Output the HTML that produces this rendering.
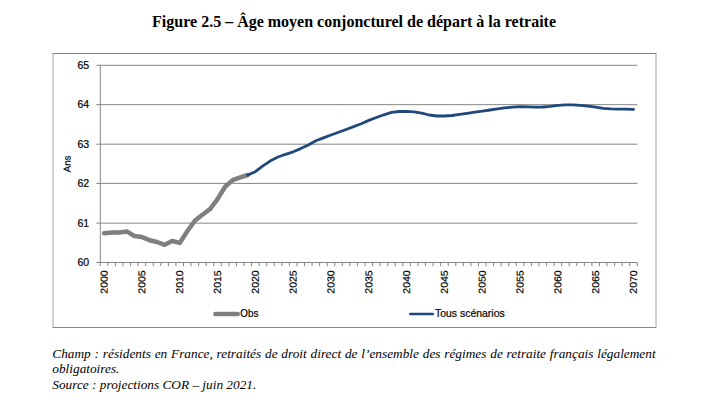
<!DOCTYPE html>
<html><head><meta charset="utf-8"><title>Figure 2.5</title>
<style>
html,body{margin:0;padding:0;background:#fff;}
body{width:714px;height:403px;position:relative;overflow:hidden;font-family:"Liberation Serif",serif;color:#000;}
.title{position:absolute;left:152.1px;top:10px;font-family:"Liberation Serif",serif;font-weight:bold;font-size:16px;line-height:24px;white-space:nowrap;}
.note{position:absolute;left:52.3px;top:345.5px;width:603.3px;font-family:"Liberation Serif",serif;font-style:italic;font-size:13.3px;line-height:15.8px;}
.note .j{display:block;text-align:justify;text-align-last:justify;white-space:nowrap;}
</style></head><body>
<svg width="714" height="403" viewBox="0 0 714 403" style="position:absolute;left:0;top:0">
<line x1="53" y1="53" x2="53" y2="328" stroke="#a2a2a2" stroke-width="1"/>
<line x1="656" y1="53" x2="656" y2="328" stroke="#a2a2a2" stroke-width="1"/>
<line x1="52.8" y1="53.5" x2="656.2" y2="53.5" stroke="#868686" stroke-width="1"/>
<line x1="52.8" y1="327.5" x2="656.2" y2="327.5" stroke="#868686" stroke-width="1"/>
<line x1="96.30" y1="262.50" x2="637.30" y2="262.50" stroke="#868686" stroke-width="1"/>
<line x1="96.30" y1="223.15" x2="637.30" y2="223.15" stroke="#868686" stroke-width="1"/>
<line x1="96.30" y1="183.40" x2="637.30" y2="183.40" stroke="#868686" stroke-width="1"/>
<line x1="96.30" y1="144.20" x2="637.30" y2="144.20" stroke="#868686" stroke-width="1"/>
<line x1="96.30" y1="104.66" x2="637.30" y2="104.66" stroke="#868686" stroke-width="1"/>
<line x1="96.30" y1="65.30" x2="637.30" y2="65.30" stroke="#868686" stroke-width="1"/>
<line x1="100.30" y1="64.80" x2="100.30" y2="266.00" stroke="#868686" stroke-width="1"/>
<line x1="107.86" y1="262.50" x2="107.86" y2="266.20" stroke="#868686" stroke-width="1"/>
<line x1="115.43" y1="262.50" x2="115.43" y2="266.20" stroke="#868686" stroke-width="1"/>
<line x1="122.99" y1="262.50" x2="122.99" y2="266.20" stroke="#868686" stroke-width="1"/>
<line x1="130.55" y1="262.50" x2="130.55" y2="266.20" stroke="#868686" stroke-width="1"/>
<line x1="138.12" y1="262.50" x2="138.12" y2="266.20" stroke="#868686" stroke-width="1"/>
<line x1="145.68" y1="262.50" x2="145.68" y2="266.20" stroke="#868686" stroke-width="1"/>
<line x1="153.24" y1="262.50" x2="153.24" y2="266.20" stroke="#868686" stroke-width="1"/>
<line x1="160.81" y1="262.50" x2="160.81" y2="266.20" stroke="#868686" stroke-width="1"/>
<line x1="168.37" y1="262.50" x2="168.37" y2="266.20" stroke="#868686" stroke-width="1"/>
<line x1="175.93" y1="262.50" x2="175.93" y2="266.20" stroke="#868686" stroke-width="1"/>
<line x1="183.50" y1="262.50" x2="183.50" y2="266.20" stroke="#868686" stroke-width="1"/>
<line x1="191.06" y1="262.50" x2="191.06" y2="266.20" stroke="#868686" stroke-width="1"/>
<line x1="198.62" y1="262.50" x2="198.62" y2="266.20" stroke="#868686" stroke-width="1"/>
<line x1="206.19" y1="262.50" x2="206.19" y2="266.20" stroke="#868686" stroke-width="1"/>
<line x1="213.75" y1="262.50" x2="213.75" y2="266.20" stroke="#868686" stroke-width="1"/>
<line x1="221.31" y1="262.50" x2="221.31" y2="266.20" stroke="#868686" stroke-width="1"/>
<line x1="228.88" y1="262.50" x2="228.88" y2="266.20" stroke="#868686" stroke-width="1"/>
<line x1="236.44" y1="262.50" x2="236.44" y2="266.20" stroke="#868686" stroke-width="1"/>
<line x1="244.00" y1="262.50" x2="244.00" y2="266.20" stroke="#868686" stroke-width="1"/>
<line x1="251.57" y1="262.50" x2="251.57" y2="266.20" stroke="#868686" stroke-width="1"/>
<line x1="259.13" y1="262.50" x2="259.13" y2="266.20" stroke="#868686" stroke-width="1"/>
<line x1="266.69" y1="262.50" x2="266.69" y2="266.20" stroke="#868686" stroke-width="1"/>
<line x1="274.26" y1="262.50" x2="274.26" y2="266.20" stroke="#868686" stroke-width="1"/>
<line x1="281.82" y1="262.50" x2="281.82" y2="266.20" stroke="#868686" stroke-width="1"/>
<line x1="289.38" y1="262.50" x2="289.38" y2="266.20" stroke="#868686" stroke-width="1"/>
<line x1="296.95" y1="262.50" x2="296.95" y2="266.20" stroke="#868686" stroke-width="1"/>
<line x1="304.51" y1="262.50" x2="304.51" y2="266.20" stroke="#868686" stroke-width="1"/>
<line x1="312.07" y1="262.50" x2="312.07" y2="266.20" stroke="#868686" stroke-width="1"/>
<line x1="319.64" y1="262.50" x2="319.64" y2="266.20" stroke="#868686" stroke-width="1"/>
<line x1="327.20" y1="262.50" x2="327.20" y2="266.20" stroke="#868686" stroke-width="1"/>
<line x1="334.76" y1="262.50" x2="334.76" y2="266.20" stroke="#868686" stroke-width="1"/>
<line x1="342.33" y1="262.50" x2="342.33" y2="266.20" stroke="#868686" stroke-width="1"/>
<line x1="349.89" y1="262.50" x2="349.89" y2="266.20" stroke="#868686" stroke-width="1"/>
<line x1="357.45" y1="262.50" x2="357.45" y2="266.20" stroke="#868686" stroke-width="1"/>
<line x1="365.02" y1="262.50" x2="365.02" y2="266.20" stroke="#868686" stroke-width="1"/>
<line x1="372.58" y1="262.50" x2="372.58" y2="266.20" stroke="#868686" stroke-width="1"/>
<line x1="380.15" y1="262.50" x2="380.15" y2="266.20" stroke="#868686" stroke-width="1"/>
<line x1="387.71" y1="262.50" x2="387.71" y2="266.20" stroke="#868686" stroke-width="1"/>
<line x1="395.27" y1="262.50" x2="395.27" y2="266.20" stroke="#868686" stroke-width="1"/>
<line x1="402.84" y1="262.50" x2="402.84" y2="266.20" stroke="#868686" stroke-width="1"/>
<line x1="410.40" y1="262.50" x2="410.40" y2="266.20" stroke="#868686" stroke-width="1"/>
<line x1="417.96" y1="262.50" x2="417.96" y2="266.20" stroke="#868686" stroke-width="1"/>
<line x1="425.53" y1="262.50" x2="425.53" y2="266.20" stroke="#868686" stroke-width="1"/>
<line x1="433.09" y1="262.50" x2="433.09" y2="266.20" stroke="#868686" stroke-width="1"/>
<line x1="440.65" y1="262.50" x2="440.65" y2="266.20" stroke="#868686" stroke-width="1"/>
<line x1="448.22" y1="262.50" x2="448.22" y2="266.20" stroke="#868686" stroke-width="1"/>
<line x1="455.78" y1="262.50" x2="455.78" y2="266.20" stroke="#868686" stroke-width="1"/>
<line x1="463.34" y1="262.50" x2="463.34" y2="266.20" stroke="#868686" stroke-width="1"/>
<line x1="470.91" y1="262.50" x2="470.91" y2="266.20" stroke="#868686" stroke-width="1"/>
<line x1="478.47" y1="262.50" x2="478.47" y2="266.20" stroke="#868686" stroke-width="1"/>
<line x1="486.03" y1="262.50" x2="486.03" y2="266.20" stroke="#868686" stroke-width="1"/>
<line x1="493.60" y1="262.50" x2="493.60" y2="266.20" stroke="#868686" stroke-width="1"/>
<line x1="501.16" y1="262.50" x2="501.16" y2="266.20" stroke="#868686" stroke-width="1"/>
<line x1="508.72" y1="262.50" x2="508.72" y2="266.20" stroke="#868686" stroke-width="1"/>
<line x1="516.29" y1="262.50" x2="516.29" y2="266.20" stroke="#868686" stroke-width="1"/>
<line x1="523.85" y1="262.50" x2="523.85" y2="266.20" stroke="#868686" stroke-width="1"/>
<line x1="531.41" y1="262.50" x2="531.41" y2="266.20" stroke="#868686" stroke-width="1"/>
<line x1="538.98" y1="262.50" x2="538.98" y2="266.20" stroke="#868686" stroke-width="1"/>
<line x1="546.54" y1="262.50" x2="546.54" y2="266.20" stroke="#868686" stroke-width="1"/>
<line x1="554.10" y1="262.50" x2="554.10" y2="266.20" stroke="#868686" stroke-width="1"/>
<line x1="561.67" y1="262.50" x2="561.67" y2="266.20" stroke="#868686" stroke-width="1"/>
<line x1="569.23" y1="262.50" x2="569.23" y2="266.20" stroke="#868686" stroke-width="1"/>
<line x1="576.79" y1="262.50" x2="576.79" y2="266.20" stroke="#868686" stroke-width="1"/>
<line x1="584.36" y1="262.50" x2="584.36" y2="266.20" stroke="#868686" stroke-width="1"/>
<line x1="591.92" y1="262.50" x2="591.92" y2="266.20" stroke="#868686" stroke-width="1"/>
<line x1="599.48" y1="262.50" x2="599.48" y2="266.20" stroke="#868686" stroke-width="1"/>
<line x1="607.05" y1="262.50" x2="607.05" y2="266.20" stroke="#868686" stroke-width="1"/>
<line x1="614.61" y1="262.50" x2="614.61" y2="266.20" stroke="#868686" stroke-width="1"/>
<line x1="622.17" y1="262.50" x2="622.17" y2="266.20" stroke="#868686" stroke-width="1"/>
<line x1="629.74" y1="262.50" x2="629.74" y2="266.20" stroke="#868686" stroke-width="1"/>
<line x1="637.30" y1="262.50" x2="637.30" y2="266.20" stroke="#868686" stroke-width="1"/>
<polyline points="104.08,233.30 111.65,232.40 119.21,232.40 126.77,231.40 134.34,236.00 141.90,237.10 149.46,240.20 157.03,242.00 164.59,244.80 172.15,241.00 179.72,242.90 187.28,231.30 194.84,220.70 202.41,214.70 209.97,209.10 217.53,199.10 225.10,186.80 232.66,180.10 240.22,177.40 247.79,175.00" fill="none" stroke="#7f7f7f" stroke-width="4.5" stroke-linecap="round" stroke-linejoin="round"/>
<polyline points="247.79,175.00 255.35,171.70 262.91,165.90 270.48,160.80 278.04,157.00 285.60,154.30 293.17,151.80 300.73,148.60 308.29,145.00 315.86,140.80 323.42,137.90 330.98,135.00 338.55,132.30 346.11,129.50 353.67,126.60 361.24,123.70 368.80,120.40 376.36,117.50 383.93,114.80 391.49,112.40 399.05,111.50 406.62,111.30 414.18,111.90 421.74,113.20 429.31,115.00 436.87,116.00 444.43,116.00 452.00,115.50 459.56,114.40 467.12,113.30 474.69,112.20 482.25,111.20 489.81,110.00 497.38,108.90 504.94,107.90 512.50,107.10 520.07,106.70 527.63,106.90 535.19,107.20 542.76,107.00 550.32,106.30 557.88,105.30 565.45,104.90 573.01,104.90 580.57,105.30 588.14,106.10 595.70,107.20 603.26,108.40 610.83,108.90 618.39,109.20 625.95,109.20 633.52,109.40" fill="none" stroke="#1f497d" stroke-width="2.8" stroke-linecap="round" stroke-linejoin="round"/>
<line x1="215.4" y1="313.95" x2="237.8" y2="313.95" stroke="#7f7f7f" stroke-width="4.5" stroke-linecap="round"/>
<line x1="410.3" y1="314" x2="432.65" y2="314" stroke="#1f497d" stroke-width="2.7" stroke-linecap="round"/>
<text x="240.3" y="317" font-family="Liberation Sans, sans-serif" font-size="10.5" fill="#000" stroke="#000" stroke-width="0.2" textLength="18" lengthAdjust="spacingAndGlyphs">Obs</text>
<text x="435" y="317" font-family="Liberation Sans, sans-serif" font-size="10.5" fill="#000" stroke="#000" stroke-width="0.2" textLength="69.7" lengthAdjust="spacingAndGlyphs">Tous scénarios</text>
<text x="89.2" y="266.00" text-anchor="end" font-family="Liberation Sans, sans-serif" font-size="10.5" fill="#000" stroke="#000" stroke-width="0.2">60</text>
<text x="89.2" y="227.00" text-anchor="end" font-family="Liberation Sans, sans-serif" font-size="10.5" fill="#000" stroke="#000" stroke-width="0.2">61</text>
<text x="89.2" y="187.00" text-anchor="end" font-family="Liberation Sans, sans-serif" font-size="10.5" fill="#000" stroke="#000" stroke-width="0.2">62</text>
<text x="89.2" y="148.00" text-anchor="end" font-family="Liberation Sans, sans-serif" font-size="10.5" fill="#000" stroke="#000" stroke-width="0.2">63</text>
<text x="89.2" y="108.00" text-anchor="end" font-family="Liberation Sans, sans-serif" font-size="10.5" fill="#000" stroke="#000" stroke-width="0.2">64</text>
<text x="89.2" y="69.00" text-anchor="end" font-family="Liberation Sans, sans-serif" font-size="10.5" fill="#000" stroke="#000" stroke-width="0.2">65</text>
<text transform="translate(107.38,293.7) rotate(-89.7)" font-family="Liberation Sans, sans-serif" font-size="9.9" fill="#000" stroke="#000" stroke-width="0.2" textLength="23.4" lengthAdjust="spacingAndGlyphs">2000</text>
<text transform="translate(145.20,293.7) rotate(-89.7)" font-family="Liberation Sans, sans-serif" font-size="9.9" fill="#000" stroke="#000" stroke-width="0.2" textLength="23.4" lengthAdjust="spacingAndGlyphs">2005</text>
<text transform="translate(183.02,293.7) rotate(-89.7)" font-family="Liberation Sans, sans-serif" font-size="9.9" fill="#000" stroke="#000" stroke-width="0.2" textLength="23.4" lengthAdjust="spacingAndGlyphs">2010</text>
<text transform="translate(220.83,293.7) rotate(-89.7)" font-family="Liberation Sans, sans-serif" font-size="9.9" fill="#000" stroke="#000" stroke-width="0.2" textLength="23.4" lengthAdjust="spacingAndGlyphs">2015</text>
<text transform="translate(258.65,293.7) rotate(-89.7)" font-family="Liberation Sans, sans-serif" font-size="9.9" fill="#000" stroke="#000" stroke-width="0.2" textLength="23.4" lengthAdjust="spacingAndGlyphs">2020</text>
<text transform="translate(296.47,293.7) rotate(-89.7)" font-family="Liberation Sans, sans-serif" font-size="9.9" fill="#000" stroke="#000" stroke-width="0.2" textLength="23.4" lengthAdjust="spacingAndGlyphs">2025</text>
<text transform="translate(334.28,293.7) rotate(-89.7)" font-family="Liberation Sans, sans-serif" font-size="9.9" fill="#000" stroke="#000" stroke-width="0.2" textLength="23.4" lengthAdjust="spacingAndGlyphs">2030</text>
<text transform="translate(372.10,293.7) rotate(-89.7)" font-family="Liberation Sans, sans-serif" font-size="9.9" fill="#000" stroke="#000" stroke-width="0.2" textLength="23.4" lengthAdjust="spacingAndGlyphs">2035</text>
<text transform="translate(409.92,293.7) rotate(-89.7)" font-family="Liberation Sans, sans-serif" font-size="9.9" fill="#000" stroke="#000" stroke-width="0.2" textLength="23.4" lengthAdjust="spacingAndGlyphs">2040</text>
<text transform="translate(447.73,293.7) rotate(-89.7)" font-family="Liberation Sans, sans-serif" font-size="9.9" fill="#000" stroke="#000" stroke-width="0.2" textLength="23.4" lengthAdjust="spacingAndGlyphs">2045</text>
<text transform="translate(485.55,293.7) rotate(-89.7)" font-family="Liberation Sans, sans-serif" font-size="9.9" fill="#000" stroke="#000" stroke-width="0.2" textLength="23.4" lengthAdjust="spacingAndGlyphs">2050</text>
<text transform="translate(523.37,293.7) rotate(-89.7)" font-family="Liberation Sans, sans-serif" font-size="9.9" fill="#000" stroke="#000" stroke-width="0.2" textLength="23.4" lengthAdjust="spacingAndGlyphs">2055</text>
<text transform="translate(561.18,293.7) rotate(-89.7)" font-family="Liberation Sans, sans-serif" font-size="9.9" fill="#000" stroke="#000" stroke-width="0.2" textLength="23.4" lengthAdjust="spacingAndGlyphs">2060</text>
<text transform="translate(599.00,293.7) rotate(-89.7)" font-family="Liberation Sans, sans-serif" font-size="9.9" fill="#000" stroke="#000" stroke-width="0.2" textLength="23.4" lengthAdjust="spacingAndGlyphs">2065</text>
<text transform="translate(636.82,293.7) rotate(-89.7)" font-family="Liberation Sans, sans-serif" font-size="9.9" fill="#000" stroke="#000" stroke-width="0.2" textLength="23.4" lengthAdjust="spacingAndGlyphs">2070</text>
<text transform="translate(70.55,172.35) rotate(-89.7)" font-family="Liberation Sans, sans-serif" font-size="9.9" fill="#000" stroke="#000" stroke-width="0.2" textLength="16.8" lengthAdjust="spacingAndGlyphs">Ans</text>
</svg>
<div class="title" id="title">Figure 2.5 – Âge moyen conjoncturel de départ à la retraite</div>
<div class="note" id="note"><span class="j" id="l1">Champ : résidents en France, retraités de droit direct de l’ensemble des régimes de retraite français légalement</span><span id="l2">obligatoires.</span><br><span id="l3">Source : projections COR – juin 2021.</span></div>
</body></html>
